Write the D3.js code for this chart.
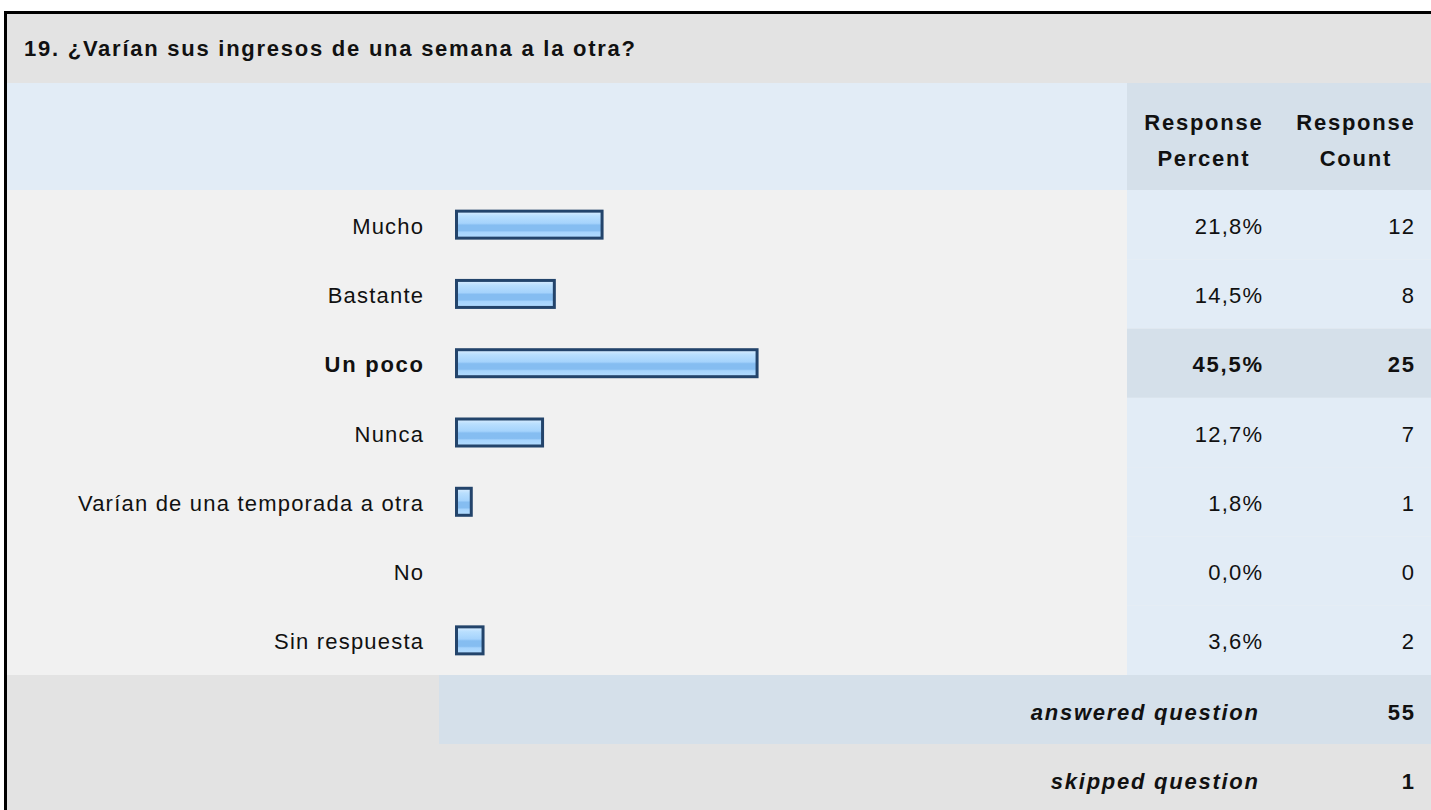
<!DOCTYPE html>
<html>
<head>
<meta charset="utf-8">
<script src="https://cdn.jsdelivr.net/npm/d3@7/dist/d3.min.js"></script>
<style>
  html, body { margin: 0; padding: 0; background: #ffffff; }
  svg { display: block; font-family: "Liberation Sans", Arial, Helvetica, sans-serif; }
</style>
</head>
<body>
<svg id="chart" width="1431" height="810"></svg>
<script>
// Survey question results
const title = "19. ¿Varían sus ingresos de una semana a la otra?";
const categories = ["Mucho", "Bastante", "Un poco", "Nunca", "Varían de una temporada a otra", "No", "Sin respuesta"];
const percents = [21.8, 14.5, 45.5, 12.7, 1.8, 0.0, 3.6];
const counts = [12, 8, 25, 7, 1, 0, 2];
const columnHeaders = [["Response", "Percent"], ["Response", "Count"]];
const summaryLabels = ["answered question", "skipped question"];
const summaryValues = [55, 1];

(function draw() {
  const W = 1431, H = 810;
  const svg = d3.select("#chart");

  const frameLeft = 7, frameTop = 14;
  const titleBottom = 83, headerBottom = 190, rowsBottom = 675, answeredBottom = 744;
  const colX = 1127;           // start of percent/count columns
  const pctRight = 1262, cntRight = 1414;
  const pctCenter = 1203, cntCenter = 1355;
  const labelRight = 423;
  const barLeft = 456.5;

  const FS = 22;
  const lsNormal = 1.2, lsBold = 1.75;   // tracking for regular and bold text

  const fmt = v => v.toFixed(1).replace(".", ",") + "%";
  const maxIdx = percents.indexOf(d3.max(percents));

  const y = d3.scaleBand().domain(categories).range([headerBottom, rowsBottom]);
  const x = d3.scaleLinear().domain([0, 100]).range([0, 654]);

  // bar gradient
  const defs = svg.append("defs");
  const grad = defs.append("linearGradient").attr("id", "barFill")
    .attr("x1", 0).attr("y1", 0).attr("x2", 0).attr("y2", 1);
  [["0%", "#dceeff"], ["18%", "#b9dffe"], ["45%", "#a5d3fc"], ["52%", "#85bdf1"],
   ["72%", "#85bdf1"], ["78%", "#a6d4fd"], ["100%", "#b3dcff"]]
    .forEach(([o, c]) => grad.append("stop").attr("offset", o).attr("stop-color", c));

  // backgrounds
  svg.append("rect").attr("x", frameLeft).attr("y", frameTop).attr("width", W - frameLeft).attr("height", titleBottom - frameTop).attr("fill", "#e3e3e3");
  svg.append("rect").attr("x", frameLeft).attr("y", titleBottom).attr("width", W - frameLeft).attr("height", headerBottom - titleBottom).attr("fill", "#e2ecf6");
  svg.append("rect").attr("x", colX).attr("y", titleBottom).attr("width", W - colX).attr("height", headerBottom - titleBottom).attr("fill", "#d5e0ea");
  svg.append("rect").attr("x", frameLeft).attr("y", headerBottom).attr("width", W - frameLeft).attr("height", rowsBottom - headerBottom).attr("fill", "#f1f1f1");

  svg.append("g").selectAll("rect").data(categories).join("rect")
    .attr("x", colX).attr("y", d => y(d))
    .attr("width", W - colX).attr("height", y.bandwidth())
    .attr("fill", (d, i) => i === maxIdx ? "#d5e0ea" : "#e2ecf6");

  svg.append("rect").attr("x", frameLeft).attr("y", rowsBottom).attr("width", W - frameLeft).attr("height", H - rowsBottom).attr("fill", "#e3e3e3");
  svg.append("rect").attr("x", 439).attr("y", rowsBottom).attr("width", W - 439).attr("height", answeredBottom - rowsBottom).attr("fill", "#d5e0ea");

  // outer frame
  svg.append("line").attr("x1", 4).attr("x2", W).attr("y1", 12.5).attr("y2", 12.5).attr("stroke", "#000").attr("stroke-width", 3);
  svg.append("line").attr("x1", 5.5).attr("x2", 5.5).attr("y1", 11).attr("y2", H).attr("stroke", "#000").attr("stroke-width", 3);

  // text helper: letter-spacing adds trailing space, so end/middle anchors are nudged back
  function label(g, xPos, yPos, txt, opts) {
    const o = Object.assign({ anchor: "start", bold: false, italic: false }, opts);
    const ls = o.bold ? lsBold : lsNormal;
    const shift = o.anchor === "end" ? ls : o.anchor === "middle" ? ls / 2 : 0;
    return g.append("text")
      .attr("x", xPos + shift).attr("y", yPos)
      .attr("text-anchor", o.anchor)
      .attr("font-size", FS)
      .attr("letter-spacing", ls)
      .attr("font-weight", o.bold ? "bold" : "normal")
      .attr("font-style", o.italic ? "italic" : "normal")
      .attr("fill", "#111")
      .text(txt);
  }

  // title
  label(svg, 24, 55.5, title, { bold: true });

  // column headers
  columnHeaders.forEach((lines, j) => {
    const cx = j === 0 ? pctCenter : cntCenter;
    lines.forEach((t, k) => label(svg, cx, 130 + k * 36, t, { anchor: "middle", bold: true }));
  });

  // rows
  const rows = svg.append("g").selectAll("g").data(categories).join("g")
    .attr("transform", d => `translate(0,${y(d) + y.bandwidth() / 2})`);

  rows.each(function (d, i) {
    const g = d3.select(this);
    const b = i === maxIdx;
    label(g, labelRight, 9, d, { anchor: "end", bold: b });
    label(g, pctRight, 9, fmt(percents[i]), { anchor: "end", bold: b });
    label(g, cntRight, 9, counts[i], { anchor: "end", bold: b });
  });

  rows.filter((d, i) => percents[i] > 0).append("rect")
    .attr("x", barLeft).attr("y", -13.5)
    .attr("width", d => x(percents[categories.indexOf(d)]) + 3)
    .attr("height", 27)
    .attr("fill", "url(#barFill)").attr("stroke", "#23446b").attr("stroke-width", 3);

  // summary rows
  const summaryY = [rowsBottom + (answeredBottom - rowsBottom) / 2, answeredBottom + 34.5];
  summaryLabels.forEach((t, i) => {
    label(svg, pctRight - 4, summaryY[i] + 10.5, t, { anchor: "end", bold: true, italic: true });
    label(svg, cntRight, summaryY[i] + 10.5, summaryValues[i], { anchor: "end", bold: true });
  });
})();
</script>
</body>
</html>
